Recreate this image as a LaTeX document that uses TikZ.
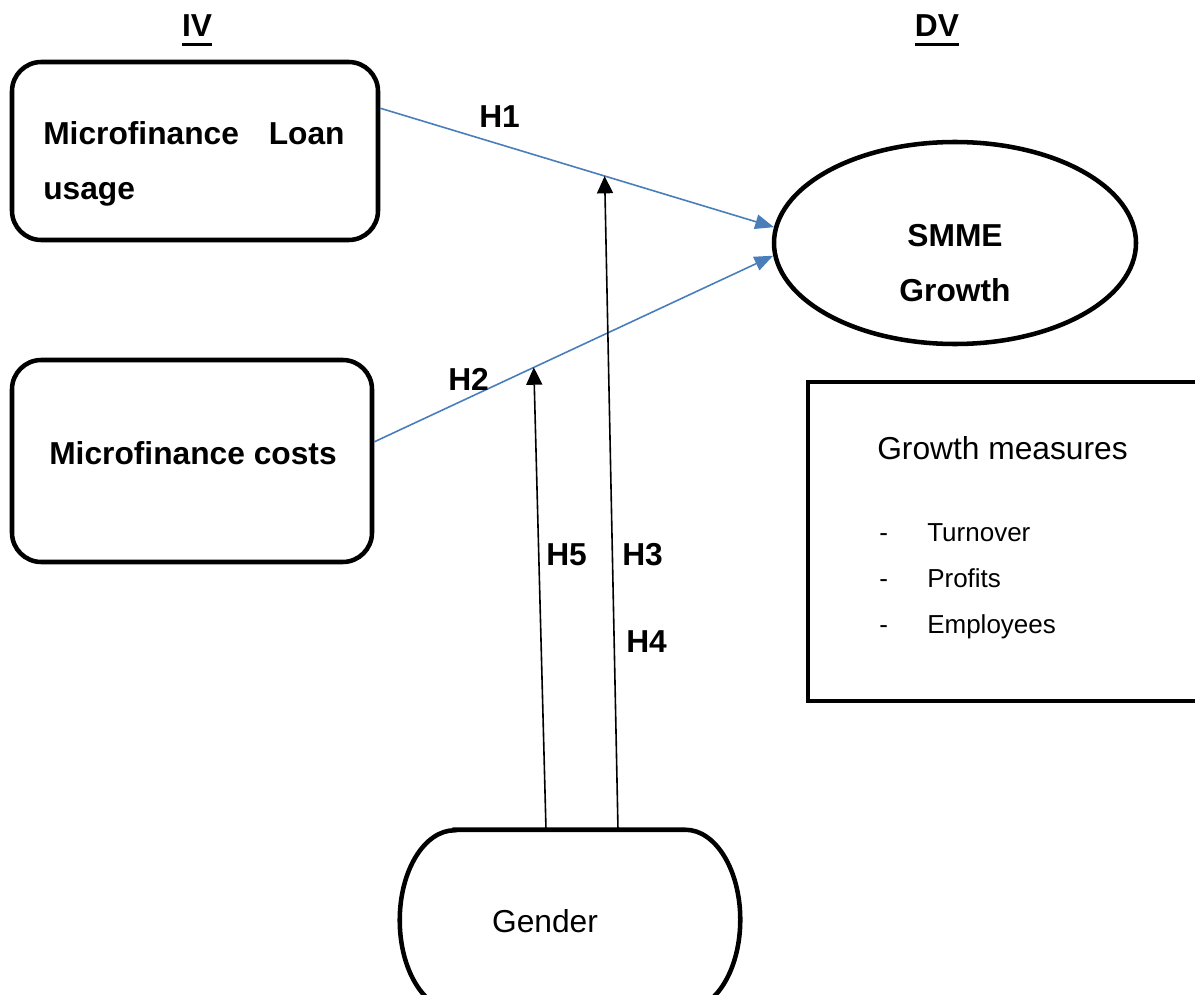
\documentclass[tikz,border=0pt]{standalone}
\usepackage{fontspec}
\setmainfont{Liberation Sans}
\usetikzlibrary{arrows.meta,calc,shapes.geometric}

\definecolor{linkblue}{RGB}{74,126,187}
\newcommand{\ulword}[1]{\setbox0\hbox{#1}\rlap{\rule[-6.75pt]{\wd0}{2.25pt}}\box0}

\begin{document}
\begin{tikzpicture}[x=0.75pt,y=0.75pt,yscale=-1,xscale=1,
  boxline/.style={draw, line width=3.4pt},
  varbox/.style={boxline, rectangle, rounded corners=22pt, inner sep=0pt},
  boldtxt/.style={inner sep=0pt, font=\fontsize{23.8}{41.25}\selectfont\bfseries},
  plaintxt/.style={inner sep=0pt, font=\fontsize{23.8}{28}\selectfont},
  itemtxt/.style={inner sep=0pt, font=\fontsize{19.5}{24}\selectfont},
  hyp/.style={-{Triangle[length=14pt,width=11pt]}, draw=linkblue, fill=linkblue, line width=1.2pt},
  moder/.style={-{Triangle[length=13pt,width=12pt]}, black, line width=1.2pt}]
\useasboundingbox (0,0) rectangle (1195,995);

%Rounded Rect
\node[varbox, minimum width=274.5pt, minimum height=133.5pt] (loan) at (195,151) {};
%Rounded Rect
\node[varbox, minimum width=270pt, minimum height=151.5pt] (costs) at (192,461) {};
%Shape: Ellipse
\node[boxline, ellipse, inner sep=0pt, minimum width=271.5pt, minimum height=151.5pt] (smme) at (955,243) {};
%Shape: Rectangle
\node[boxline, rectangle, minimum width=305.25pt, minimum height=239.25pt] (measures) at (1011.5,541.5) {};
%Shape: Gender outline
\node[inner sep=0pt, minimum width=172.5pt, minimum height=135pt] (gender) at (570,920) {};
\draw[line width=3.4pt] (gender.north west) -- (gender.north east)
  arc[start angle=-90, end angle=90, x radius=55, y radius=90] -- (gender.south west)
  arc[start angle=90, end angle=270, x radius=55, y radius=90] -- cycle;

% Text Node
\node[boldtxt, anchor=base] (iv) at (197,37) {\ulword{IV}};
% Text Node
\node[boldtxt, anchor=base] (dv) at (937,37) {\ulword{DV}};
% Text Node
\node[boldtxt, anchor=north west, align=left, text width=226pt] (loantxt) at (43,121.5) {Microfinance\hfill Loan\\usage};
% Text Node
\node[boldtxt, anchor=base] (coststxt) at (193,464) {Microfinance costs};
% Text Node
\node[boldtxt, anchor=north, align=center] (smmetxt) at (955,224.5) {SMME\\Growth};
% Text Node
\node[plaintxt, anchor=base west] (measurestxt) at (877,459) {Growth measures};
\foreach \txt [count=\i] in {Turnover,Profits,Employees}
  \node[itemtxt, anchor=base west] (item\i) at (879,495+46*\i) {\makebox[36pt][l]{-}\txt};
% Text Node
\node[plaintxt, anchor=base] (gendertxt) at (545,932) {Gender};

%Straight Lines: hypotheses
\draw[hyp] (loan.13) -- (smme.175);
\draw[hyp] (costs.6) -- (smme.184);
\coordinate (m1) at ($(loan.13)!0.57!(smme.175)$);
\coordinate (m2) at ($(costs.6)!0.40!(smme.184)$);
%Straight Lines: moderation
\draw[moder] ([xshift=-18pt]gender.north) -- (m2);
\draw[moder] ([xshift=36pt]gender.north) -- (m1);

% Text Node
\node[boldtxt, anchor=base west] (h1) at (479,128) {H1};
% Text Node
\node[boldtxt, anchor=base west] (h2) at (448,390) {H2};
% Text Node
\node[boldtxt, anchor=base west] (h5) at (546,565) {H5};
% Text Node
\node[boldtxt, anchor=base west] (h3) at (622,565) {H3};
% Text Node
\node[boldtxt, anchor=base west] (h4) at (626,652) {H4};

\end{tikzpicture}
\end{document}
